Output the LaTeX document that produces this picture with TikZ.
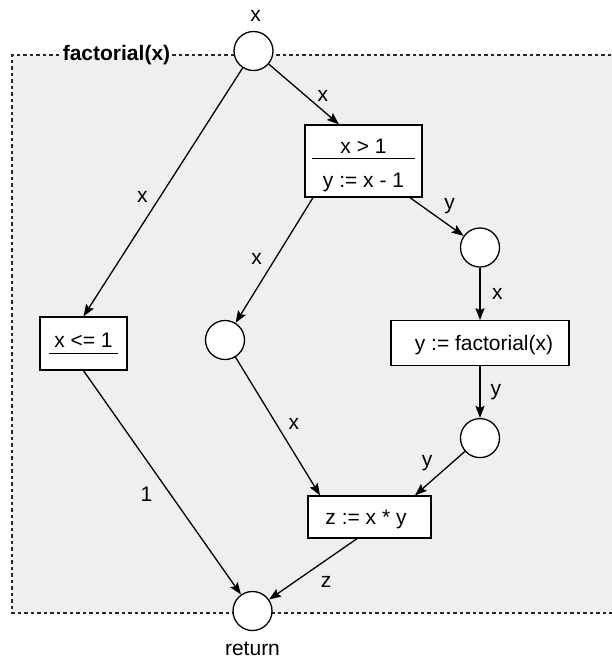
\documentclass[tikz,border=0pt]{standalone}
\usepackage{fontspec}
\setmainfont{Liberation Sans}
\usepackage{tikz}
\usetikzlibrary{positioning,arrows.meta}
\definecolor{bodybg}{HTML}{EFEFEF}

\begin{document}
\begin{tikzpicture}[
  x=1pt, y=-1pt,
  txt/.style={font=\fontsize{21}{25}\selectfont},
  ttl/.style={font=\fontsize{21}{25}\selectfont\bfseries, inner sep=2pt},
  port/.style={circle, draw, line width=1.3pt, fill=white,
               minimum size=39pt, inner sep=0pt},
  stmt/.style={draw, line width=1.3pt, fill=white, inner sep=0pt,
               align=center, txt},
  lbl/.style={txt, inner sep=2pt},
  frame/.style={line width=1.5pt, black!85, dash pattern=on 3.5pt off 3pt},
  ar/.style={-{Stealth[length=12pt,width=9pt,inset=2pt]}, line width=1.3pt},
]
  \useasboundingbox (0,0) rectangle (612,659);

  %% function body
  \fill[bodybg] (12,55) rectangle (614,613);
  \node[ttl] (head) at (116.5,55) {factorial(x)};
  \draw[frame] (head.east) -- (614,55) -- (614,613) -- (12,613)
    -- (12,55) -- (head.west);

  %% ports and statements
  \node[port] (in) at (253.5,51) {};
  \node[lbl, above=7pt of in, xshift=2pt] (inx) {x};

  \node[stmt, minimum width=117pt, minimum height=72pt] (test) at (363.5,161)
    {\rule{0pt}{24pt}x > 1\\[-19.7pt]\rule{103pt}{1.3pt}\\[4pt]y := x - 1};
  \node[stmt, minimum width=87pt, minimum height=53pt] (base) at (83.5,343.5)
    {x <= 1\\[-18pt]\rule{70pt}{1.3pt}};

  \node[port] (xin) at (225,340) {};
  \node[port] (yin) at (480,247.5) {};
  \node[stmt, text depth=0pt, minimum width=178pt, minimum height=45pt,
        below=52.5pt of yin] (rec) {\hspace*{8pt}y := factorial(x)};
  \node[port, below=51.5pt of rec] (yout) {};

  \node[stmt, text depth=0pt, minimum width=123pt, minimum height=42pt]
    (mul) at (369.5,517) {z := x * y\hspace*{7pt}};

  \node[port] (ret) at (252.5,611) {};
  \node[lbl, below=8.5pt of ret] (retl) {return};

  %% data edges
  \draw[ar] (in) -- node[lbl, left=9.5pt, pos=0.52] {x} (base.north);
  \draw[ar] (in) -- node[lbl, right=9pt, pos=0.53] {x}
    ([xshift=-24.5pt]test.north);
  \draw[ar] ([xshift=-50.5pt]test.south) -- node[lbl, left=10.5pt, pos=0.49] {x}
    (xin);
  \draw[ar] ([xshift=46.5pt]test.south) -- node[lbl, above=9.5pt, pos=0.74] {y}
    (yin);
  \draw[ar] (yin) -- node[lbl, right=9.5pt] {x} (rec);
  \draw[ar] (rec) -- node[lbl, right=8pt] {y} (yout);
  \draw[ar] (yout) -- node[lbl, left=17pt, pos=0.26] {y}
    ([xshift=45.5pt]mul.north);
  \draw[ar] (xin) -- node[lbl, right=10pt, pos=0.48] {x}
    ([xshift=-49.5pt]mul.north);
  \draw[ar] (base.south) -- node[lbl, left=15pt, pos=0.55] {1} (ret);
  \draw[ar] ([xshift=-12.5pt]mul.south) -- node[lbl, below=14pt, pos=0.35] {z}
    (ret);
\end{tikzpicture}
\end{document}
